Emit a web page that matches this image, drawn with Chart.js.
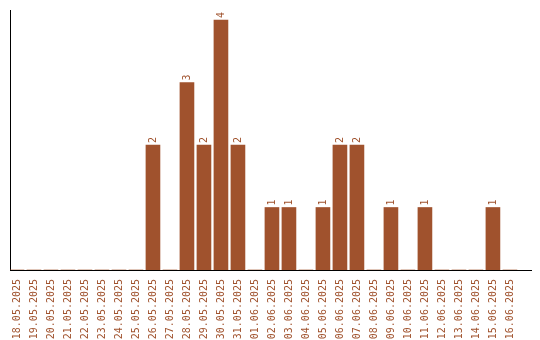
<!DOCTYPE html>
<html>
<head>
<meta charset="utf-8">
<script src="https://cdn.jsdelivr.net/npm/chart.js@4/dist/chart.umd.min.js"></script>
<style>
  html, body { margin: 0; padding: 0; background: #fff; }
  canvas { display: block; }
</style>
</head>
<body>
<canvas id="barChart" width="540" height="340"></canvas>
<script>
// 날짜 (18.05.2025 ~ 16.06.2025)
const dates = [
  '18.05.2025', '19.05.2025', '20.05.2025', '21.05.2025', '22.05.2025',
  '23.05.2025', '24.05.2025', '25.05.2025', '26.05.2025', '27.05.2025',
  '28.05.2025', '29.05.2025', '30.05.2025', '31.05.2025', '01.06.2025',
  '02.06.2025', '03.06.2025', '04.06.2025', '05.06.2025', '06.06.2025',
  '07.06.2025', '08.06.2025', '09.06.2025', '10.06.2025', '11.06.2025',
  '12.06.2025', '13.06.2025', '14.06.2025', '15.06.2025', '16.06.2025'
];
// 날짜별 건수
const counts = [
  0, 0, 0, 0, 0, 0, 0, 0, 2, 0,
  3, 2, 4, 2, 0, 1, 1, 0, 1, 2,
  2, 0, 1, 0, 1, 0, 0, 0, 1, 0
];

const barColor = '#A0522D';
const monoFont = '"DejaVu Sans Mono", "Liberation Mono", monospace';

// 막대 위에 세로로 값 표시
const valueLabels = {
  id: 'valueLabels',
  afterDatasetsDraw(chart) {
    const ctx = chart.ctx;
    const meta = chart.getDatasetMeta(0);
    ctx.save();
    ctx.fillStyle = barColor;
    ctx.font = '10px ' + monoFont;
    ctx.textAlign = 'left';
    ctx.textBaseline = 'middle';
    meta.data.forEach((bar, i) => {
      if (!counts[i]) return;
      ctx.save();
      ctx.translate(bar.x, bar.y - 2);
      ctx.rotate(-Math.PI / 2);
      ctx.fillText(String(counts[i]), 0, 0);
      ctx.restore();
    });
    ctx.restore();
  }
};

const ctx = document.getElementById('barChart').getContext('2d');
new Chart(ctx, {
  type: 'bar',
  data: {
    datasets: [{
      data: counts.map((v, i) => ({ x: i, y: v })),
      backgroundColor: barColor,
      borderWidth: 0,
      barThickness: 14
    }]
  },
  options: {
    responsive: false,
    animation: false,
    devicePixelRatio: 1,
    layout: { padding: { left: 10, top: 10, right: 9, bottom: 0 } },
    plugins: {
      legend: { display: false },
      tooltip: { enabled: false }
    },
    scales: {
      x: {
        type: 'linear',
        offset: false,
        min: -0.41,
        max: 30.24,
        afterBuildTicks: scale => {
          scale.ticks = dates.map((d, i) => ({ value: i }));
        },
        afterFit: scale => { scale.height = 70; },
        ticks: {
          autoSkip: false,
          minRotation: 90,
          maxRotation: 90,
          padding: 9,
          color: barColor,
          font: { family: monoFont, size: 10 },
          callback: v => dates[v]
        },
        grid: { display: false, drawTicks: false, offset: false },
        border: { display: true, color: '#000', width: 1 }
      },
      y: {
        min: 0,
        max: 4.16,
        ticks: { display: false },
        grid: { display: false, drawTicks: false },
        border: { display: true, color: '#000', width: 1 }
      }
    }
  },
  plugins: [valueLabels]
});
</script>
</body>
</html>
